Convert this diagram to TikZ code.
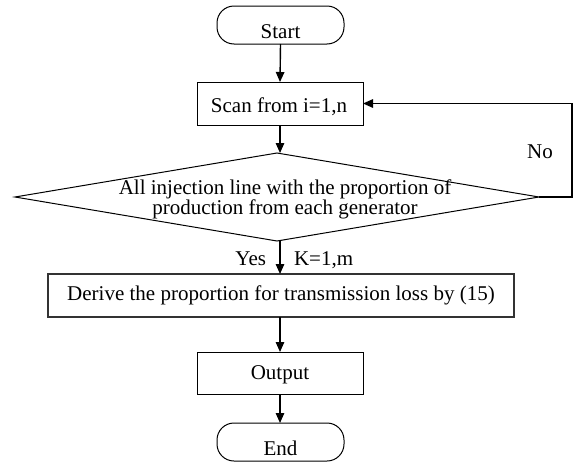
\documentclass[tikz,border=0pt]{standalone}
\usepackage{fontspec}
\setmainfont{Liberation Serif}
\usetikzlibrary{arrows.meta,shapes.geometric,calc}
\begin{document}
\begin{tikzpicture}[x=1pt,y=-1pt,
  every node/.style={inner sep=0pt,outer sep=0pt},
  txt/.style={font=\fontsize{21}{19}\selectfont,anchor=base},
  boxs/.style={draw,line width=1pt},
  term/.style={draw,line width=1pt,rounded corners=17pt},
  arr/.style={line width=1.4pt,-{Triangle[length=10pt,width=8.5pt]}},
  lin/.style={line width=1pt}]
\useasboundingbox (0,0) rectangle (573,466);
% shapes
\node[term,minimum width=127pt,minimum height=38pt] (start) at (280.5,25) {};
\node[boxs,minimum width=166pt,minimum height=43pt] (scan) at (280,103.5) {};
\node[draw,lin,diamond,minimum width=524pt,minimum height=88pt] (dia) at (277,197) {};
\node[draw,line width=1.6pt,draw=black!80,minimum width=466pt,minimum height=43pt] (derive) at (281,295.5) {};
\node[boxs,minimum width=166pt,minimum height=42pt] (out) at (280,373) {};
\node[term,minimum width=127pt,minimum height=38pt] (end) at (280.5,442) {};
% texts
\node[txt] (tstart) at (280.5,38) {Start};
\node[txt] (tscan) at (279,112) {Scan from i=1,n};
\node[txt] (tdia1) at (285,194) {All injection line with the proportion of};
\node[txt] (tdia2) at (285,214) {production from each generator};
\node[txt] (tderive) at (281,300) {Derive the proportion for transmission loss by (15)};
\node[txt] (tout) at (280,379) {Output};
\node[txt] (tend) at (280.5,455) {End};
\node[txt] (tno) at (540,158) {No};
\node[txt,anchor=base east] (tyes) at (266,265) {Yes};
\node[txt,anchor=base west] (tk) at (294,265) {K=1,m};
% connectors
\draw[arr] (start.south) -- (scan.north);
\draw[arr] (scan.south) -- (scan.south |- dia.north);
\draw[arr] (scan.south |- dia.south) -- (scan.south |- derive.north);
\draw[arr] (scan.south |- derive.south) -- (out.north);
\draw[arr] (out.south) -- (out.south |- end.north);
\coordinate (loopc) at (572,197);
\draw[arr] (dia.east) -- (loopc) |- (scan.east);
\end{tikzpicture}
\end{document}
